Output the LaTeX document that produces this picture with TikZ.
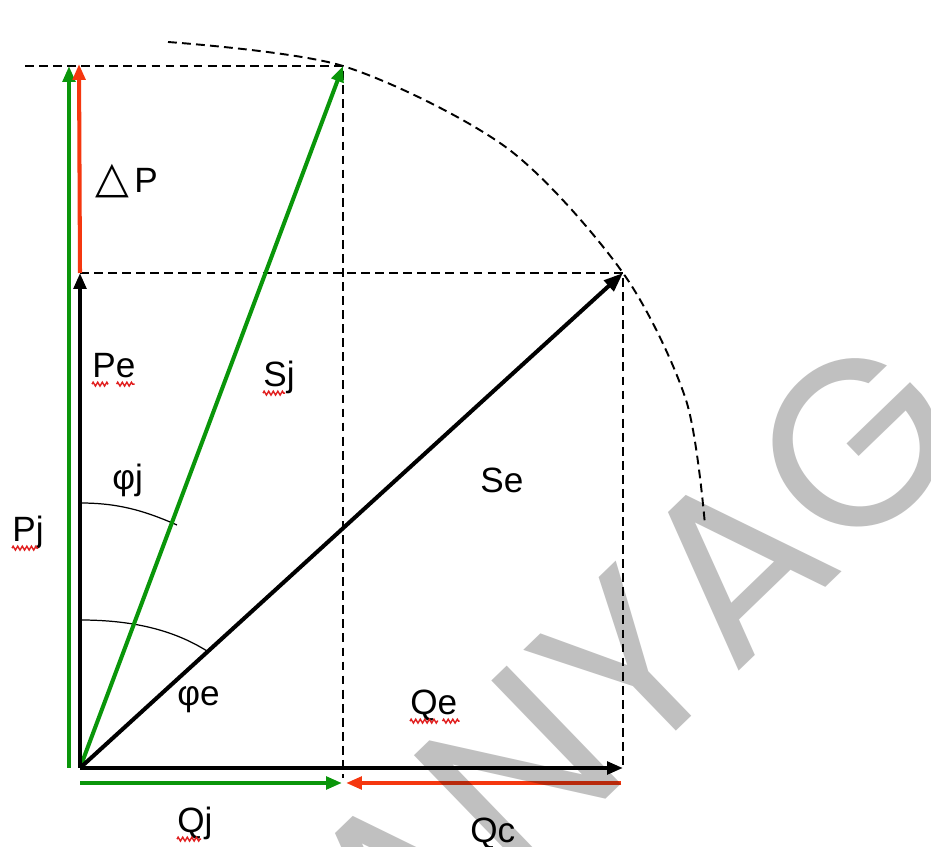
\documentclass[tikz,border=0pt]{standalone}
\usepackage{fontspec}
\setmainfont{Liberation Sans}
\newfontfamily\symbfont{DejaVu Sans}
\newfontfamily\markfont{Poppins}
\usepackage{xcolor}
\usetikzlibrary{arrows.meta,decorations.pathmorphing}

\definecolor{vecgreen}{RGB}{10,150,10}
\definecolor{vecred}{RGB}{245,55,15}
\definecolor{wavyred}{RGB}{225,30,30}
\definecolor{markgray}{RGB}{192,192,192}

\begin{document}
\begin{tikzpicture}[
    x=0.02cm, y=-0.02cm,
    >={Triangle[length=9pt,width=7pt]},
    vec/.style={->, line width=2.3pt},
    guide/.style={line width=1.1pt, dash pattern=on 5pt off 3pt},
    anglearc/.style={line width=0.7pt},
    lbl/.style={anchor=base west, inner sep=0pt, font=\fontsize{20}{24}\selectfont},
    squiggle/.style={draw=wavyred, line width=0.8pt, decorate,
        decoration={zigzag, segment length=2.6pt, amplitude=1.1pt}}
]

% page
\fill[white] (0,0) rectangle (931,847);
\useasboundingbox (0,0) rectangle (931,847);
\clip (0,0) rectangle (931,847);

% points of the diagram
\coordinate (o) at (80,768);
\coordinate (pe) at (80,273);
\coordinate (se) at (623,273);
\coordinate (qe) at (623,768);
\coordinate (sj) at (343,66);
\coordinate (pjbase) at (69,768);
\coordinate (pjtop) at (69,66);
\coordinate (dptop) at (79,64);
\coordinate (topleft) at (25,66);
\coordinate (sjfoot) at (343,778);
\coordinate (qjstart) at (80,783);
\coordinate (qjtip) at (342,783);
\coordinate (qcstart) at (621,783);
\coordinate (qctip) at (346,783);
\coordinate (arcstart) at (168,42);
\coordinate (arcmid) at (507,148);
\coordinate (arclow) at (686,400);
\coordinate (arcend) at (705,525);
\coordinate (phja) at (80,503);
\coordinate (phjb) at (177,525);
\coordinate (phea) at (80,620);
\coordinate (pheb) at (207,651);

% dashed guides
\draw[guide] (topleft) -- (sj) -- (sjfoot);
\draw[guide] (pe) -- (se) -- (qe);
\draw[guide] plot[smooth] coordinates {(arcstart) (sj) (arcmid) (se) (arclow) (arcend)};

% angles
\draw[anglearc] (phja) .. controls +(37,0) and +(-34,-15) .. (phjb);
\draw[anglearc] (phea) .. controls +(50,0) and +(-35,-22) .. (pheb);

% vectors
\draw[vec, vecgreen] (pjbase) -- (pjtop);
\draw[vec, vecgreen] (o) -- (sj);
\draw[vec, vecgreen] (qjstart) -- (qjtip);
\draw[vec, vecred] (pe) -- (dptop);
\draw[vec, vecred] (qcstart) -- (qctip);
\draw[vec] (o) -- (pe);
\draw[vec, >={Triangle[length=11pt,width=8pt]}] (o) -- (se);
\draw[vec] (o) -- (qe);

% labels
\node[lbl] (dp) at (95,193) {{\symbfont\fontsize{25}{25}\selectfont △}\hspace{3pt}P};
\node[lbl] (pelbl) at (92,378) {Pe};
\node[lbl] (sjlbl) at (263,387) {Sj};
\node[lbl] (selbl) at (480,493) {Se};
\node[lbl] (pjlbl) at (12,542) {Pj};
\node[lbl] (phjlbl) at (112,490) {φj};
\node[lbl] (phelbl) at (177,706) {φe};
\node[lbl] (qelbl) at (410,715) {Qe};
\node[lbl] (qjlbl) at (177,833) {Qj};
\node[lbl] (qclbl) at (470,843) {Qc};

% spelling marks
\draw[squiggle] ([yshift=-3.5pt]pelbl.base west) -- ++(16,0);
\draw[squiggle] ([yshift=-3.5pt,xshift=14pt]pelbl.base west) -- ++(18,0);
\draw[squiggle] ([yshift=-3.5pt]sjlbl.base west) -- ++(22,0);
\draw[squiggle] ([yshift=-3.5pt]pjlbl.base west) -- ++(26,0);
\draw[squiggle] ([yshift=-3.5pt]qelbl.base west) -- ++(28,0);
\draw[squiggle] ([yshift=-3.5pt,xshift=18.5pt]qelbl.base west) -- ++(17,0);
\draw[squiggle] ([yshift=-3.5pt]qjlbl.base west) -- ++(24,0);

% watermark
\begin{scope}[blend mode=multiply]
\node[rotate=44, anchor=base, inner sep=0pt, text=markgray,
    font=\markfont\fontsize{134}{134}\selectfont] (wmark) at (690,718) {ANYAG};
\end{scope}

\end{tikzpicture}
\end{document}
